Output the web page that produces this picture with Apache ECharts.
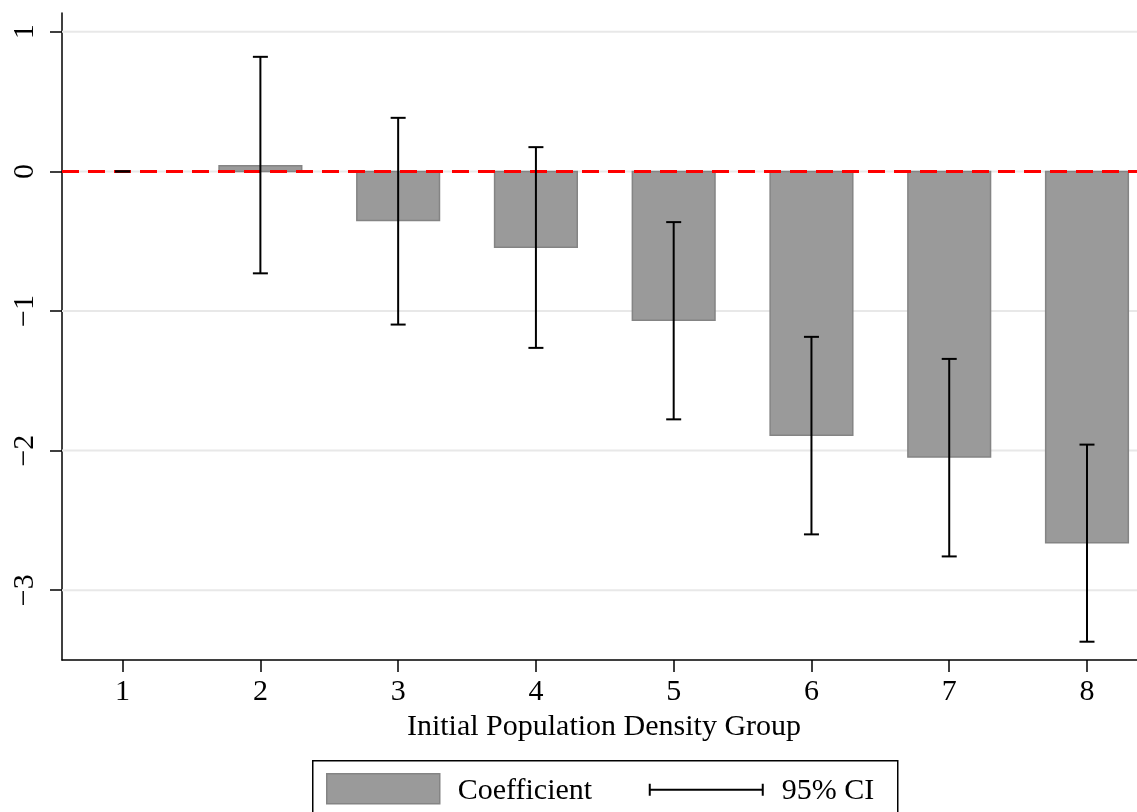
<!DOCTYPE html>
<html>
<head>
<meta charset="utf-8">
<title>Coefficient by Initial Population Density Group</title>
<script src="https://cdn.jsdelivr.net/npm/echarts@6/dist/echarts.min.js"></script>
<style>
  html, body { margin: 0; padding: 0; background: #ffffff; }
  #chart { width: 1137px; height: 812px; }
</style>
</head>
<body>
<div id="chart"></div>
<script>
// Density groups and estimated coefficients with 95% confidence bounds
const groups = [1, 2, 3, 4, 5, 6, 7, 8];
const coef   = [0, 0.04, -0.351, -0.543, -1.066, -1.890, -2.046, -2.660];
const ciLow  = [0, -0.73, -1.097, -1.264, -1.776, -2.600, -2.758, -3.369];
const ciHigh = [0, 0.821, 0.384, 0.174, -0.363, -1.185, -1.343, -1.957];

// Axis ticks and labels
const xTicks = [1, 2, 3, 4, 5, 6, 7, 8];
const yTicks = [-3, -2, -1, 0, 1];
const yTickLabels = ['\u22123', '\u22122', '\u22121', '0', '1'];
const refLine = [0];
const xTitle = 'Initial Population Density Group';
const legendBar = 'Coefficient';
const legendCI = '95% CI';

const FONT = '"Liberation Serif", "Times New Roman", serif';
const BAR_HALF = 0.3;      // half bar width, in x units
const CAP_HALF = 7.5;      // half cap width, in px

const barData = groups.map((g, i) => [g, coef[i]]);
const ciData = groups.map((g, i) => [g, ciLow[i], ciHigh[i]]);

// full-width horizontal line at a y value, used for gridlines and the zero line
function hLine(style) {
  return (params, api) => {
    const cs = params.coordSys;
    const y = api.coord([xTicks[0], api.value(0)])[1];
    return {
      type: 'line',
      shape: { x1: cs.x, y1: y, x2: cs.x + cs.width, y2: y },
      style: style
    };
  };
}

const chart = echarts.init(document.getElementById('chart'), null, { renderer: 'canvas' });

const option = {
  backgroundColor: '#ffffff',
  animation: false,
  grid: { left: 62, top: 13, right: 0, bottom: 152 },
  xAxis: {
    type: 'value',
    min: 0.56,
    max: 8.363,
    name: xTitle,
    nameLocation: 'middle',
    nameGap: 51,
    nameTextStyle: { fontFamily: FONT, fontSize: 30, color: '#000', padding: [0, 0, 0, 9] },
    axisLine: { show: true, onZero: false, lineStyle: { color: '#000', width: 1.5 } },
    axisTick: { show: true, length: 12, customValues: xTicks, lineStyle: { color: '#000', width: 1.5 } },
    axisLabel: { customValues: xTicks, fontFamily: FONT, fontSize: 30, color: '#000', margin: 17 },
    splitLine: { show: false }
  },
  yAxis: {
    type: 'value',
    min: -3.5,
    max: 1.135,
    axisLine: { show: true, onZero: false, lineStyle: { color: '#000', width: 1.5 } },
    axisTick: { show: true, length: 12, customValues: yTicks, lineStyle: { color: '#000', width: 1.5 } },
    axisLabel: {
      customValues: yTicks,
      rotate: 90,
      margin: 22,
      fontFamily: FONT, fontSize: 30, color: '#000',
      formatter: v => yTickLabels[yTicks.indexOf(v)] ?? String(v)
    },
    splitLine: { show: false }
  },
  series: [
    {
      // light horizontal gridlines at the major ticks
      type: 'custom',
      z: 1,
      silent: true,
      encode: { y: 0 },
      data: yTicks.map(v => [v]),
      renderItem: hLine({ stroke: '#e8e8e8', lineWidth: 2 })
    },
    {
      name: legendBar,
      type: 'custom',
      z: 2,
      data: barData,
      renderItem: (params, api) => {
        const x = api.value(0), v = api.value(1);
        if (v === 0) return null;
        const p0 = api.coord([x - BAR_HALF, Math.max(v, 0)]);
        const p1 = api.coord([x + BAR_HALF, Math.min(v, 0)]);
        return {
          type: 'rect',
          shape: { x: p0[0], y: p0[1], width: p1[0] - p0[0], height: p1[1] - p0[1] },
          style: { fill: '#9a9a9a', stroke: '#848484', lineWidth: 1.5 }
        };
      }
    },
    {
      // dashed reference line at zero
      type: 'custom',
      z: 3,
      silent: true,
      encode: { y: 0 },
      data: refLine.map(v => [v]),
      renderItem: hLine({ stroke: '#ff0000', lineWidth: 3, lineDash: [17, 9], lineDashOffset: 0 })
    },
    {
      name: legendCI,
      type: 'custom',
      z: 4,
      data: ciData,
      renderItem: (params, api) => {
        const x = api.value(0);
        const lo = api.coord([x, api.value(1)]);
        const hi = api.coord([x, api.value(2)]);
        const st = { stroke: '#000', lineWidth: 2 };
        return {
          type: 'group',
          children: [
            { type: 'line', shape: { x1: lo[0], y1: lo[1], x2: hi[0], y2: hi[1] }, style: st },
            { type: 'line', shape: { x1: lo[0] - CAP_HALF, y1: lo[1], x2: lo[0] + CAP_HALF, y2: lo[1] }, style: st },
            { type: 'line', shape: { x1: hi[0] - CAP_HALF, y1: hi[1], x2: hi[0] + CAP_HALF, y2: hi[1] }, style: st }
          ]
        };
      }
    }
  ],
  graphic: [
    {
      type: 'group',
      left: 312, top: 760,
      children: [
        { type: 'rect', shape: { x: 0, y: 0, width: 585, height: 70 },
          style: { fill: '#fff', stroke: '#000', lineWidth: 1.5 } },
        { type: 'rect', shape: { x: 14, y: 13, width: 113, height: 30 },
          style: { fill: '#9a9a9a', stroke: '#848484', lineWidth: 1.5 } },
        { type: 'text', x: 145, y: 30,
          style: { text: legendBar, font: '30px ' + FONT, fill: '#000', verticalAlign: 'middle', align: 'left' } },
        { type: 'line', shape: { x1: 337, y1: 29, x2: 450, y2: 29 }, style: { stroke: '#000', lineWidth: 2 } },
        { type: 'line', shape: { x1: 337, y1: 23, x2: 337, y2: 35 }, style: { stroke: '#000', lineWidth: 2 } },
        { type: 'line', shape: { x1: 450, y1: 23, x2: 450, y2: 35 }, style: { stroke: '#000', lineWidth: 2 } },
        { type: 'text', x: 469, y: 30,
          style: { text: legendCI, font: '30px ' + FONT, fill: '#000', verticalAlign: 'middle', align: 'left' } }
      ]
    }
  ]
};

chart.setOption(option);
</script>
</body>
</html>
